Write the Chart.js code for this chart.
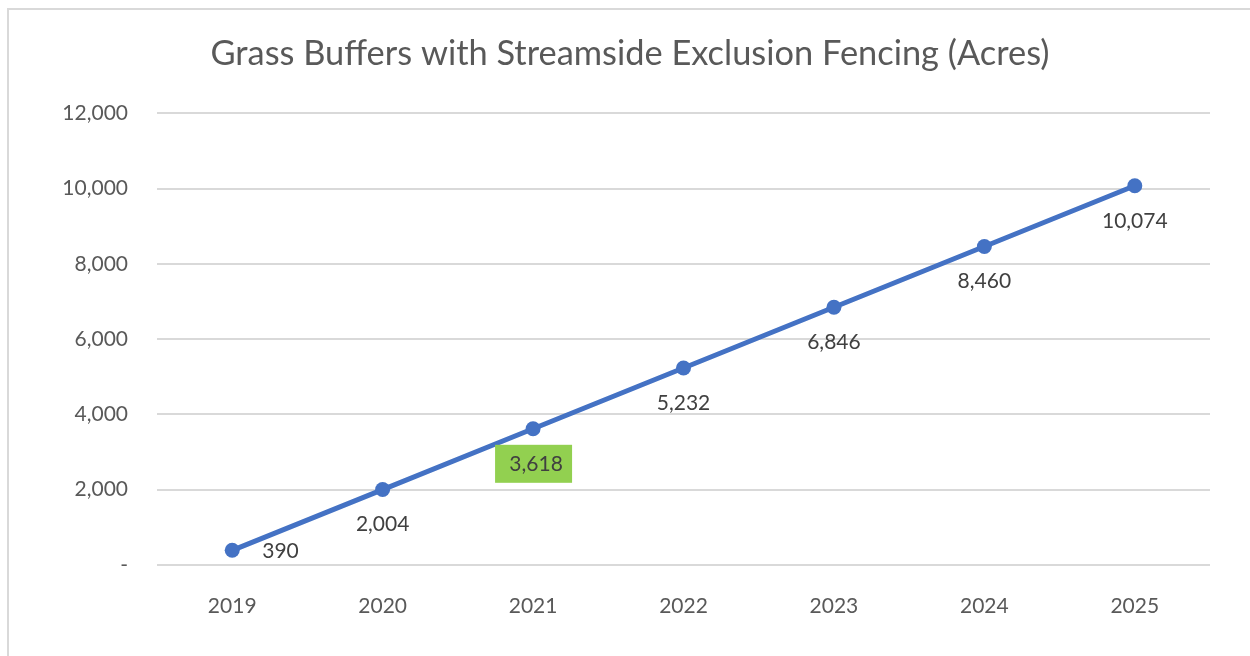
<!DOCTYPE html>
<html>
<head>
<meta charset="utf-8">
<script src="https://cdn.jsdelivr.net/npm/chart.js@4.4.1/dist/chart.umd.min.js"></script>
<style>
    html, body { margin: 0; padding: 0; background: #fff; }
    #frame { position: absolute; left: 0; top: 0; width: 1250px; height: 656px; }
    #border { position: absolute; left: 7px; top: 8px; width: 1260px; height: 660px;
        border-left: 2px solid #d9d9d9; border-top: 2px solid #d9d9d9; pointer-events: none; }
</style>
</head>
<body>
<div id="frame"><canvas id="chart" width="1250" height="656"></canvas></div>
<div id="border"></div>
<script>
const years = ['2019', '2020', '2021', '2022', '2023', '2024', '2025'];
const acres = [390, 2004, 3618, 5232, 6846, 8460, 10074];
const yTicks = [0, 2000, 4000, 6000, 8000, 10000, 12000];
const highlightIndex = 2; // label with green box

const fontFamily = 'Lato, "Open Sans", sans-serif';

// draws the value labels like excel does (below the point, first one to the right)
const valueLabels = {
    id: 'valueLabels',
    afterDatasetsDraw(chart) {
        const ctx = chart.ctx;
        const meta = chart.getDatasetMeta(0);
        ctx.save();
        ctx.font = `21px ${fontFamily}`;
        ctx.textBaseline = 'middle';
        meta.data.forEach((pt, i) => {
            const text = acres[i].toLocaleString('en-US');
            let x = pt.x, y = pt.y + 35;
            ctx.textAlign = 'center';
            if (i === 0) {
                x = pt.x + 30;
                y = pt.y + 1;
                ctx.textAlign = 'left';
            }
            if (i === highlightIndex) {
                ctx.fillStyle = '#92d050';
                ctx.fillRect(x - 38, y - 19, 77, 38);
            }
            ctx.fillStyle = '#404040';
            ctx.fillText(text, x + (i === highlightIndex ? 3 : 0), y);
        });
        ctx.restore();
    }
};

const ctx = document.getElementById('chart').getContext('2d');
new Chart(ctx, {
    type: 'line',
    data: {
        labels: years,
        datasets: [{
            data: acres,
            borderColor: '#4472c4',
            backgroundColor: '#4472c4',
            borderWidth: 5,
            pointRadius: 7.5,
            pointBorderWidth: 0,
            tension: 0,
        }]
    },
    options: {
        responsive: false,
        animation: false,
        layout: { padding: { left: 10, right: 0, top: 0, bottom: 0 } },
        plugins: {
            legend: { display: false },
            tooltip: { enabled: false },
            title: {
                display: true,
                text: 'Grass Buffers with Streamside Exclusion Fencing (Acres)',
                color: '#595959',
                font: { family: fontFamily, size: 34.4, weight: 'normal' },
                padding: { top: 33, bottom: 39 },
            },
        },
        scales: {
            x: {
                offset: true,
                grid: { display: false },
                border: { display: false },
                ticks: { color: '#595959', padding: 21, font: { family: fontFamily, size: 21 } },
                afterFit: (scale) => { scale.height = 91; },
            },
            y: {
                min: 0,
                max: 12000,
                afterBuildTicks: (scale) => { scale.ticks = yTicks.map(v => ({ value: v })); },
                grid: { color: '#d9d9d9', lineWidth: 2, drawTicks: false },
                border: { display: false },
                ticks: {
                    color: '#595959',
                    padding: 29,
                    font: { family: fontFamily, size: 21 },
                    callback: (v) => v === 0 ? '-' : v.toLocaleString('en-US'),
                },
                afterFit: (scale) => { scale.width = 147; },
            },
            // empty axis, only keeps the space on the right side
            yRight: {
                position: 'right',
                min: 0,
                max: 12000,
                grid: { display: false },
                border: { display: false },
                ticks: { display: false },
                afterFit: (scale) => { scale.width = 40; },
            }
        }
    },
    plugins: [valueLabels]
});
</script>
</body>
</html>
